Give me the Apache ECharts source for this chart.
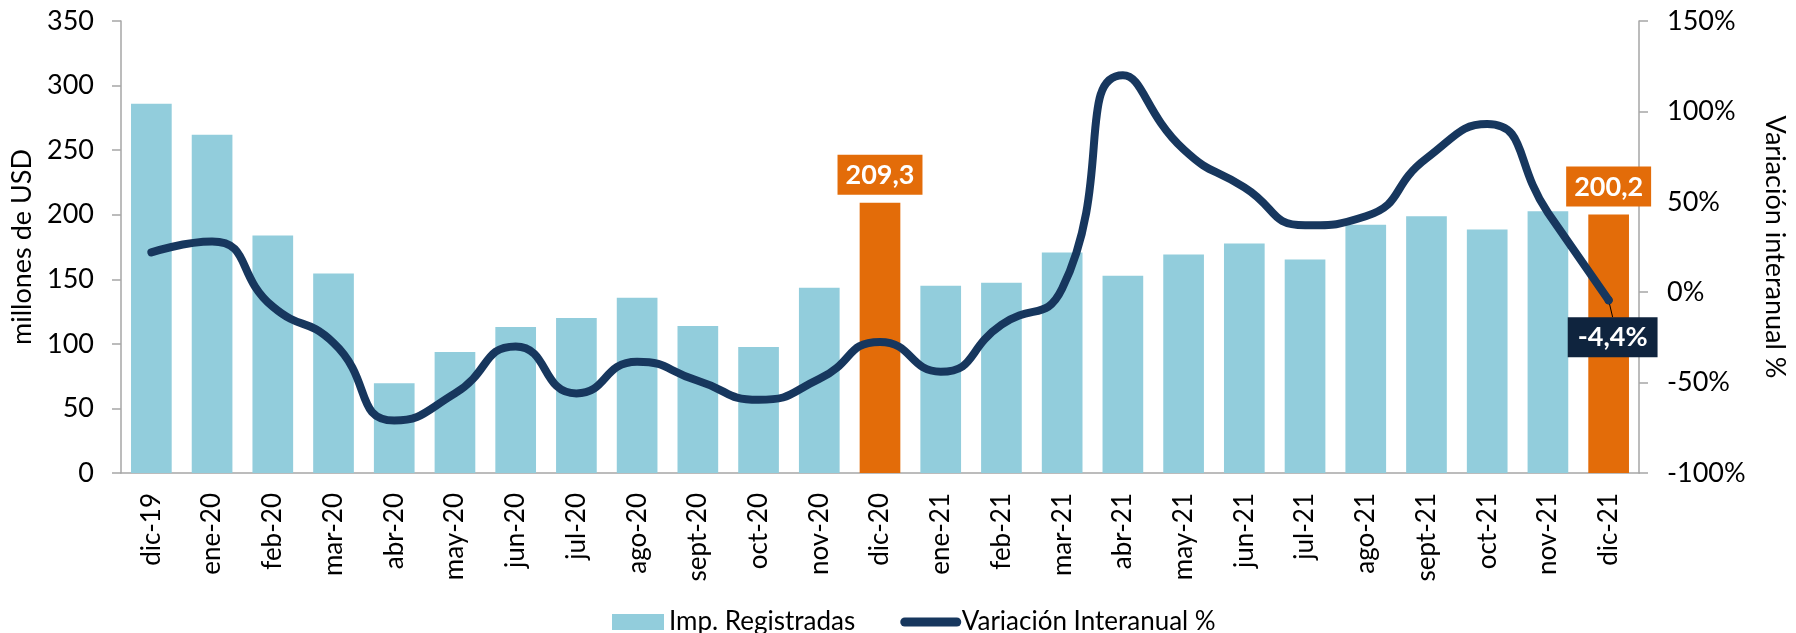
<!DOCTYPE html>
<html>
<head>
<meta charset="utf-8">
<script src="https://cdn.jsdelivr.net/npm/echarts@6/dist/echarts.min.js"></script>
<style>
  html, body { margin: 0; padding: 0; background: #ffffff; }
  #chart { width: 1796px; height: 633px; }
</style>
</head>
<body>
<div id="chart"></div>
<script>
// categorias (meses)
const categories = ['dic-19', 'ene-20', 'feb-20', 'mar-20', 'abr-20', 'may-20', 'jun-20', 'jul-20', 'ago-20', 'sept-20', 'oct-20', 'nov-20', 'dic-20',
  'ene-21', 'feb-21', 'mar-21', 'abr-21', 'may-21', 'jun-21', 'jul-21', 'ago-21', 'sept-21', 'oct-21', 'nov-21', 'dic-21'];
// importaciones registradas, millones de USD
const importValues = [286, 262, 184, 154.4, 69.5, 93.7, 113.1, 120.1, 135.7, 113.9, 97.6, 143.5, 209.3,
  145, 147.4, 170.7, 152.8, 169.2, 177.7, 165.3, 192.3, 198.8, 188.6, 202.6, 200.2];
// variacion interanual %
const variation = [22, 28, -8, -28, -71, -56, -30, -56, -38.5, -49, -59.5, -48, -27.5,
  -44, -18, 2, 120, 79, 58, 37, 42, 74, 93, 44, -4.4];
// meses destacados
const highlighted = ['dic-20', 'dic-21'];
const leftTicks = { min: 0, max: 350, interval: 50 };
const rightTicks = { min: -100, max: 150, interval: 50 };

const FONT = 'Lato';
const fmt = function (v, d) { return v.toFixed(d).replace('.', ','); };

const barData = importValues.map(function (v, i) {
  if (highlighted.indexOf(categories[i]) < 0) return v;
  return {
    value: v,
    itemStyle: { color: '#E36C09' },
    label: {
      show: true,
      position: 'top',
      distance: 8,
      formatter: fmt(v, 1),
      backgroundColor: '#E36C09',
      color: '#ffffff',
      fontFamily: FONT,
      fontWeight: 'bold',
      fontSize: 27,
      padding: [7, 8, 6, 8]
    }
  };
});

const last = variation.length - 1;
const lineData = variation.map(function (v, i) {
  if (i !== last) return v;
  // ultimo punto: etiqueta desplazada debajo con linea guia
  return {
    value: v,
    symbol: 'circle',
    symbolSize: 8,
    label: {
      show: true,
      position: 'inside',
      formatter: fmt(v, 1) + '%',
      backgroundColor: '#0F243E',
      color: '#ffffff',
      fontFamily: FONT,
      fontWeight: 'bold',
      fontSize: 27,
      padding: [7, 10, 6, 10]
    }
  };
});

const chart = echarts.init(document.getElementById('chart'), null, { renderer: 'canvas' });

const axisGray = '#A6A6A6';
chart.setOption({
  backgroundColor: '#ffffff',
  animation: false,
  textStyle: { fontFamily: FONT },
  grid: { left: 121, right: 150, top: 21, bottom: 160 },
  legend: {
    left: 607,
    top: 604,
    itemGap: 45,
    itemWidth: 52,
    itemHeight: 16,
    textStyle: { fontFamily: FONT, fontSize: 26, color: '#000' },
    data: [
      { name: 'Imp. Registradas', icon: 'rect' },
      {
        name: 'Variación Interanual %',
        itemStyle: { opacity: 0 },
        lineStyle: { width: 9, cap: 'round', color: '#17375E' }
      }
    ]
  },
  xAxis: {
    type: 'category',
    data: categories,
    axisLine: { lineStyle: { color: axisGray, width: 1.5 } },
    axisTick: { length: 9, lineStyle: { color: axisGray, width: 1.5 } },
    axisLabel: { rotate: 90, margin: 20, color: '#000', fontFamily: FONT, fontSize: 26 }
  },
  yAxis: [
    {
      type: 'value',
      min: leftTicks.min, max: leftTicks.max, interval: leftTicks.interval,
      name: 'millones de USD',
      nameLocation: 'middle',
      nameGap: 80,
      nameTextStyle: { fontFamily: FONT, fontSize: 27, color: '#000' },
      splitLine: { show: false },
      axisLine: { show: true, lineStyle: { color: axisGray, width: 1.5 } },
      axisTick: { show: true, length: 9, lineStyle: { color: axisGray, width: 1.5 } },
      axisLabel: { margin: 27, color: '#000', fontFamily: FONT, fontSize: 27 }
    },
    {
      type: 'value',
      position: 'right',
      min: rightTicks.min, max: rightTicks.max, interval: rightTicks.interval,
      name: 'Variación interanual %',
      nameLocation: 'middle',
      nameRotate: -90,
      nameGap: 122,
      nameTextStyle: { fontFamily: FONT, fontSize: 27, color: '#000' },
      splitLine: { show: false },
      axisLine: { show: true, lineStyle: { color: axisGray, width: 1.5 } },
      axisTick: { show: true, length: 9, lineStyle: { color: axisGray, width: 1.5 } },
      axisLabel: { margin: 28, color: '#000', fontFamily: FONT, fontSize: 27, formatter: '{value}%' }
    }
  ],
  series: [
    {
      name: 'Imp. Registradas',
      type: 'bar',
      yAxisIndex: 0,
      barCategoryGap: '33%',
      itemStyle: { color: '#92CDDC' },
      data: barData
    },
    {
      name: 'Variación Interanual %',
      type: 'line',
      yAxisIndex: 1,
      smooth: 0.55,
      symbol: 'none',
      lineStyle: { color: '#17375E', width: 8, cap: 'round', join: 'round' },
      itemStyle: { color: '#17375E' },
      labelLayout: { dx: 4, dy: 37 },
      labelLine: { show: true, lineStyle: { color: '#000', width: 1 } },
      data: lineData
    }
  ]
});
</script>
</body>
</html>
